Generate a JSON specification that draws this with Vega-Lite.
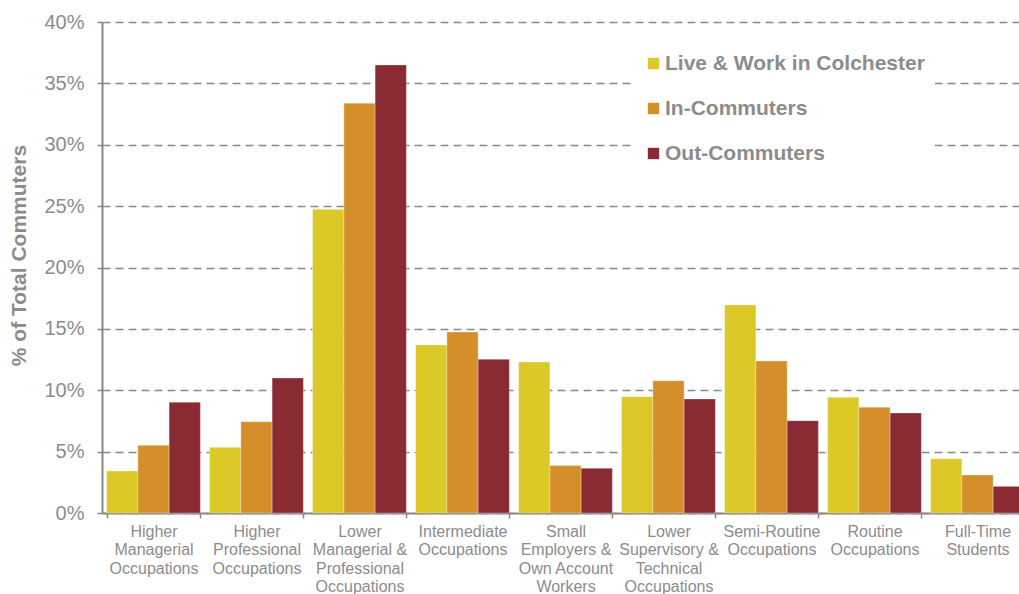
{
  "$schema": "https://vega.github.io/schema/vega-lite/v6.json",
  "width": 927,
  "height": 491,
  "autosize": {"type": "none"},
  "padding": {"left": 102, "top": 22, "right": 0, "bottom": 81},
  "background": "white",
  "config": {
    "view": {"stroke": null},
    "font": "Liberation Sans"
  },
  "data": {
    "values": [
      {"category": "Higher Managerial Occupations", "group": "Live & Work in Colchester", "value": 0.0342},
      {"category": "Higher Managerial Occupations", "group": "In-Commuters", "value": 0.0551},
      {"category": "Higher Managerial Occupations", "group": "Out-Commuters", "value": 0.0902},
      {"category": "Higher Professional Occupations", "group": "Live & Work in Colchester", "value": 0.0535},
      {"category": "Higher Professional Occupations", "group": "In-Commuters", "value": 0.0744},
      {"category": "Higher Professional Occupations", "group": "Out-Commuters", "value": 0.1100},
      {"category": "Lower Managerial & Professional Occupations", "group": "Live & Work in Colchester", "value": 0.2474},
      {"category": "Lower Managerial & Professional Occupations", "group": "In-Commuters", "value": 0.3338},
      {"category": "Lower Managerial & Professional Occupations", "group": "Out-Commuters", "value": 0.3650},
      {"category": "Intermediate Occupations", "group": "Live & Work in Colchester", "value": 0.1369},
      {"category": "Intermediate Occupations", "group": "In-Commuters", "value": 0.1475},
      {"category": "Intermediate Occupations", "group": "Out-Commuters", "value": 0.1252},
      {"category": "Small Employers & Own Account Workers", "group": "Live & Work in Colchester", "value": 0.1230},
      {"category": "Small Employers & Own Account Workers", "group": "In-Commuters", "value": 0.0386},
      {"category": "Small Employers & Own Account Workers", "group": "Out-Commuters", "value": 0.0364},
      {"category": "Lower Supervisory & Technical Occupations", "group": "Live & Work in Colchester", "value": 0.0948},
      {"category": "Lower Supervisory & Technical Occupations", "group": "In-Commuters", "value": 0.1078},
      {"category": "Lower Supervisory & Technical Occupations", "group": "Out-Commuters", "value": 0.0929},
      {"category": "Semi-Routine Occupations", "group": "Live & Work in Colchester", "value": 0.1695},
      {"category": "Semi-Routine Occupations", "group": "In-Commuters", "value": 0.1238},
      {"category": "Semi-Routine Occupations", "group": "Out-Commuters", "value": 0.0752},
      {"category": "Routine Occupations", "group": "Live & Work in Colchester", "value": 0.0942},
      {"category": "Routine Occupations", "group": "In-Commuters", "value": 0.0861},
      {"category": "Routine Occupations", "group": "Out-Commuters", "value": 0.0815},
      {"category": "Full-Time Students", "group": "Live & Work in Colchester", "value": 0.0442},
      {"category": "Full-Time Students", "group": "In-Commuters", "value": 0.0310},
      {"category": "Full-Time Students", "group": "Out-Commuters", "value": 0.0217}
    ]
  },
  "mark": {"type": "bar", "stroke": "white", "strokeWidth": 0.6, "strokeOpacity": 0.5},
  "encoding": {
    "x": {
      "field": "category",
      "type": "nominal",
      "sort": null,
      "scale": {"paddingInner": 0.09, "paddingOuter": 0.045},
      "axis": {
        "title": null,
        "labelAngle": 0,
        "labelColor": "#8c8c8c",
        "labelFontSize": 16,
        "labelLineHeight": 18.5,
        "labelPadding": 5,
        "labelLimit": 0,
        "labelExpr": "({'Higher Managerial Occupations': ['Higher','Managerial','Occupations'], 'Higher Professional Occupations': ['Higher','Professional','Occupations'], 'Lower Managerial & Professional Occupations': ['Lower','Managerial &','Professional','Occupations'], 'Intermediate Occupations': ['Intermediate','Occupations'], 'Small Employers & Own Account Workers': ['Small','Employers &','Own Account','Workers'], 'Lower Supervisory & Technical Occupations': ['Lower','Supervisory &','Technical','Occupations'], 'Semi-Routine Occupations': ['Semi-Routine','Occupations'], 'Routine Occupations': ['Routine','Occupations'], 'Full-Time Students': ['Full-Time','Students']})[datum.value]",
        "domainColor": "#888888",
        "domainWidth": 2,
        "tickColor": "#888888",
        "tickWidth": 1.5,
        "tickSize": 5,
        "tickBand": "extent",
        "grid": false
      }
    },
    "xOffset": {
      "field": "group",
      "type": "nominal",
      "sort": ["Live & Work in Colchester", "In-Commuters", "Out-Commuters"],
      "scale": {"paddingInner": 0, "paddingOuter": 0}
    },
    "y": {
      "field": "value",
      "type": "quantitative",
      "scale": {"domain": [0, 0.4], "nice": false},
      "axis": {
        "title": "% of Total Commuters",
        "titleFontSize": 21,
        "titleFontWeight": "bold",
        "titleColor": "#8c8c8c",
        "titlePadding": 14,
        "titleY": 233,
        "values": [0, 0.05, 0.1, 0.15, 0.2, 0.25, 0.3, 0.35, 0.4],
        "format": ".0%",
        "labelColor": "#8c8c8c",
        "labelFontSize": 20,
        "labelPadding": 13,
        "domainColor": "#888888",
        "domainWidth": 2,
        "tickColor": "#888888",
        "tickWidth": 1.5,
        "tickSize": 5,
        "grid": true,
        "gridColor": "#888888",
        "gridWidth": 1.6,
        "gridDash": [8, 5]
      }
    },
    "color": {
      "field": "group",
      "type": "nominal",
      "scale": {
        "domain": ["Live & Work in Colchester", "In-Commuters", "Out-Commuters"],
        "range": ["#dcc826", "#d48f2a", "#8a2a33"]
      },
      "legend": {
        "title": null,
        "orient": "none",
        "legendX": 531,
        "legendY": 21,
        "padding": 10,
        "fillColor": "white",
        "symbolType": "square",
        "symbolSize": 130,
        "symbolStrokeWidth": 0,
        "labelFont": "Liberation Sans",
        "labelFontSize": 21,
        "labelFontWeight": "bold",
        "labelColor": "#8c8c8c",
        "labelOffset": 1,
        "labelLimit": 0,
        "rowPadding": 23
      }
    }
  }
}
